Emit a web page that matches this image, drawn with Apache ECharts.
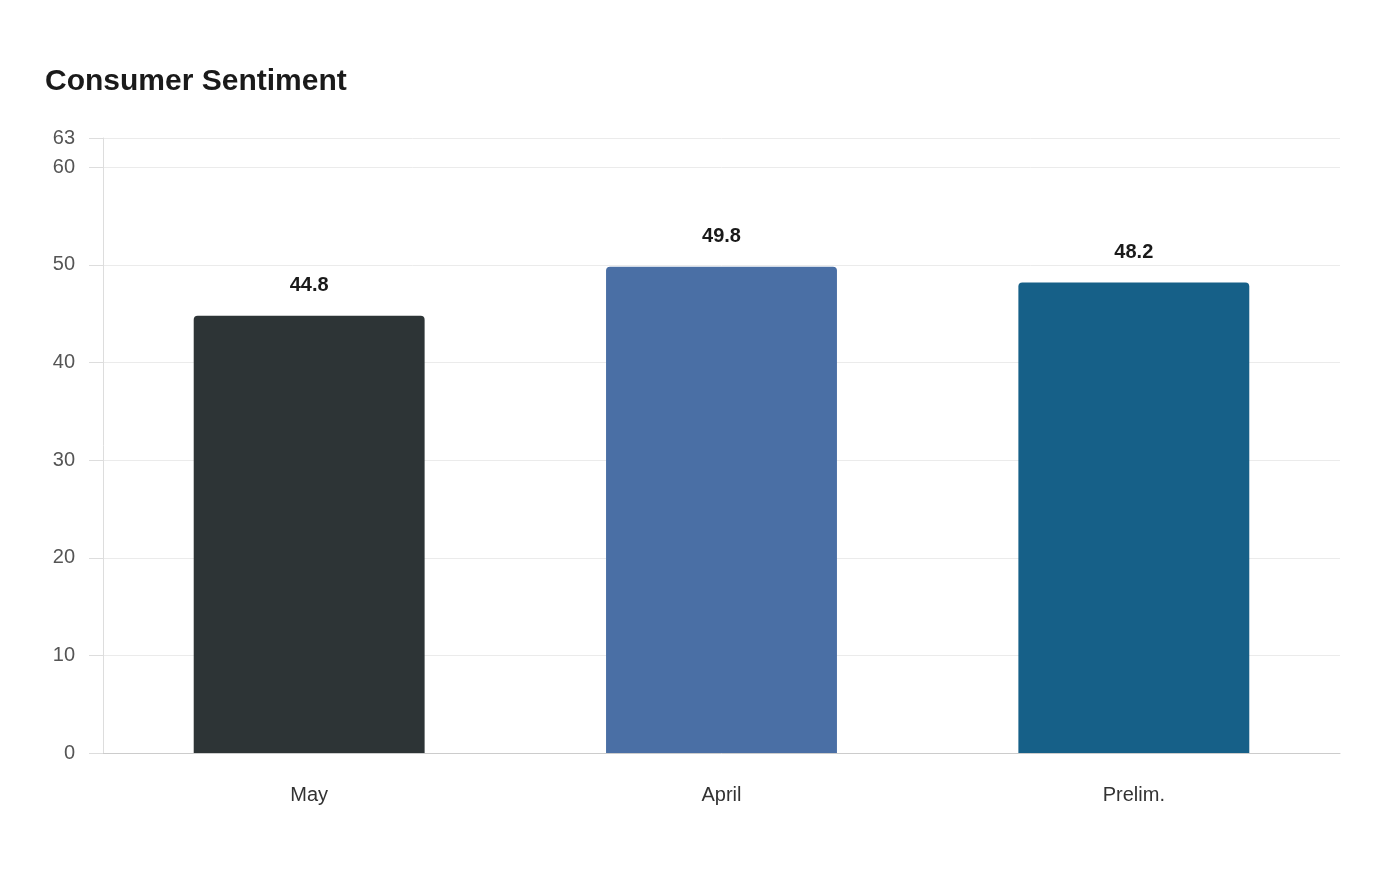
<!DOCTYPE html>
<html lang="en">
<head>
    <meta charset="UTF-8">
    <title>Consumer Sentiment</title>
    <script src="https://cdn.jsdelivr.net/npm/echarts@6/dist/echarts.min.js"></script>
</head>
<body style="margin:0">
<div id="main" style="width: 1400px;height:880px"></div>
<script>
    const categories = ['May', 'April', 'Prelim.']
    const values = [44.8, 49.8, 48.2]
    const colors = ['#2d3436', '#4a6fa5', '#166088']

    const myChart = echarts.init(document.getElementById('main'))
    const option = {
        textStyle: {fontFamily: 'Liberation Sans'},
        title: {
            text: 'Consumer Sentiment',
            left: 40, top: 62,
            textStyle: {fontSize: 30, fontWeight: 'bold', color: '#1a1a1a', fontFamily: 'Liberation Sans'}
        },
        grid: {left: 103, right: 60, top: 138, bottom: 127},
        xAxis: {
            type: 'category',
            data: categories,
            axisLine: {lineStyle: {color: '#cccccc'}},
            axisTick: {show: false},
            axisLabel: {color: '#333', fontSize: 20, margin: 32}
        },
        yAxis: {
            type: 'value',
            min: 0, max: 63, interval: 10,
            axisLine: {show: true, lineStyle: {color: '#dddddd'}},
            axisTick: {show: true, length: 14, lineStyle: {color: '#dddddd'}},
            splitLine: {lineStyle: {color: '#ebebeb'}},
            axisLabel: {color: '#555', fontSize: 20, margin: 28, showMaxLabel: true}
        },
        series: [{
            type: 'bar',
            barWidth: '56%',
            data: values.map((v, i) => ({value: v, itemStyle: {color: colors[i]}})),
            itemStyle: {borderRadius: [4, 4, 0, 0]},
            label: {
                show: true, position: 'top', distance: 20,
                fontSize: 20, fontWeight: 'bold', color: '#1a1a1a'
            }
        }]
    }
    myChart.setOption(option)
</script>
</body>
</html>
